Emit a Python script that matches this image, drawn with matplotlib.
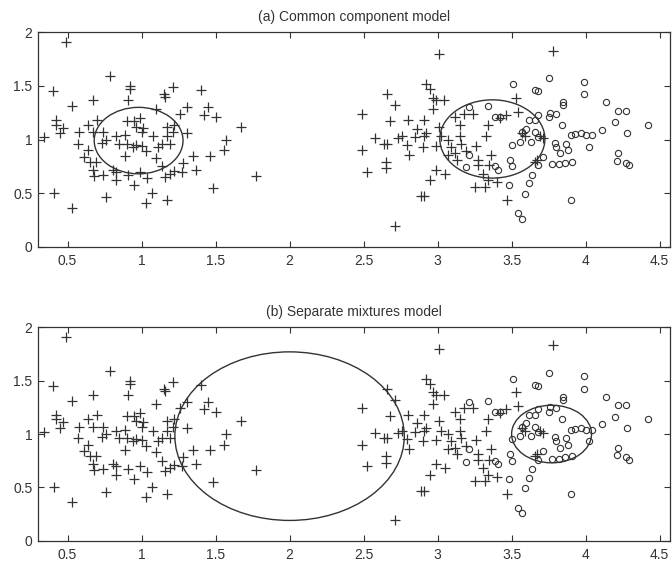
import matplotlib
matplotlib.use("Agg")
import matplotlib.pyplot as plt
from matplotlib.patches import Ellipse

plt.rcParams['font.family'] = ['Liberation Sans', 'DejaVu Sans']

# class 1 points (plotted as +)
plus_x = [0.49, 0.79, 0.40, 0.92, 0.92, 1.21, 1.40, 0.67, 0.91, 1.15, 1.16, 0.53, 1.31, 1.45,
          1.10, 1.50, 1.42, 1.26, 1.67, 0.42, 0.42, 0.47, 0.45, 0.34, 0.58, 0.64, 0.70, 0.67,
          0.57, 0.74, 0.76, 0.73, 0.83, 0.89, 0.85, 0.90, 0.96, 0.90, 0.95, 0.99, 0.96, 1.01,
          1.00, 0.94, 1.00, 1.03, 0.89, 1.10, 1.08, 1.11, 1.14, 1.17, 1.19, 1.21, 1.17, 1.22,
          1.31, 1.57, 1.56, 1.46, 1.35, 1.28, 1.27, 1.37, 1.22, 1.19, 1.16, 1.14, 1.04, 0.99,
          0.91, 0.83, 0.83, 0.81, 0.74, 0.68, 0.69, 0.67, 0.61, 0.64, 0.65, 0.95, 1.07, 1.03,
          1.17, 0.76, 0.41, 0.53, 1.48, 1.77,
          3.01, 3.78, 2.66, 2.71, 2.49, 2.92, 2.95, 2.97, 2.99, 3.04, 2.97, 3.53, 3.54, 2.68,
          2.80, 2.91, 2.86, 2.92, 2.85, 2.91, 2.90, 3.01, 3.02, 2.99, 3.07, 3.09, 3.12, 3.15,
          3.18, 3.24, 3.15, 3.16, 3.12, 3.19, 3.26, 3.34, 3.33, 3.07, 3.13, 2.58, 2.64, 2.66,
          2.73, 2.76, 2.79, 2.81, 2.49, 2.65, 2.65, 2.52, 2.99, 3.05, 2.95, 2.89, 2.91, 2.71,
          3.27, 3.27, 3.35, 3.36, 3.31, 3.34, 3.25, 3.32, 3.40, 3.47, 3.42, 3.46, 3.57, 3.59,
          3.66, 3.67, 3.69, 3.71]
plus_y = [1.91, 1.59, 1.45, 1.50, 1.47, 1.49, 1.46, 1.37, 1.37, 1.42, 1.40, 1.31, 1.30, 1.30,
          1.28, 1.21, 1.23, 1.24, 1.12, 1.18, 1.14, 1.11, 1.06, 1.02, 1.07, 1.14, 1.18, 1.07,
          0.96, 1.07, 1.00, 0.97, 1.03, 1.04, 0.96, 0.96, 0.95, 1.17, 1.17, 1.20, 1.12, 1.11,
          1.07, 0.93, 0.94, 0.89, 0.85, 0.83, 1.03, 0.93, 0.96, 1.03, 0.96, 1.07, 1.12, 1.14,
          1.06, 1.00, 0.90, 0.85, 0.85, 0.78, 0.70, 0.72, 0.71, 0.68, 0.65, 0.75, 0.64, 0.70,
          0.67, 0.70, 0.62, 0.72, 0.67, 0.66, 0.79, 0.72, 0.84, 0.90, 0.79, 0.58, 0.50, 0.41,
          0.44, 0.46, 0.50, 0.36, 0.55, 0.66,
          1.80, 1.83, 1.42, 1.32, 1.24, 1.52, 1.47, 1.39, 1.37, 1.37, 1.28, 1.39, 1.26, 1.17,
          1.18, 1.18, 1.10, 1.06, 1.02, 1.03, 0.93, 1.12, 1.03, 0.94, 1.00, 0.93, 1.21, 1.14,
          1.24, 1.24, 1.03, 0.96, 0.87, 0.89, 0.94, 1.14, 1.03, 0.86, 0.81, 1.01, 0.96, 0.96,
          1.01, 1.03, 0.95, 0.86, 0.90, 0.79, 0.73, 0.70, 0.72, 0.68, 0.62, 0.47, 0.47, 0.19,
          0.81, 0.76, 0.76, 0.86, 0.68, 0.62, 0.56, 0.56, 0.60, 0.44, 1.20, 1.23, 1.06, 1.03,
          0.79, 0.81, 1.03, 1.01]

# class 2 points (plotted as o)
circ_x = [3.51, 3.75, 3.99, 3.99, 3.66, 3.68, 3.85, 3.85, 4.14, 4.22, 4.27, 4.20, 4.42, 4.28,
          3.21, 3.34, 3.39, 3.42, 3.76, 3.80, 3.75, 3.68, 3.62, 3.66, 3.60, 3.57, 3.66, 3.68,
          3.63, 3.56, 3.50, 3.84, 3.90, 3.93, 3.97, 4.00, 4.04, 4.11, 4.02, 3.79, 3.80, 3.83,
          3.87, 3.88, 3.77, 3.82, 3.86, 3.91, 3.71, 3.68, 3.64, 3.62, 3.59, 3.48, 3.49, 3.50,
          3.41, 3.39, 3.19, 3.21, 3.54, 3.57, 3.90, 4.22, 4.21, 4.27, 4.29]
circ_y = [1.52, 1.57, 1.54, 1.42, 1.46, 1.45, 1.35, 1.32, 1.35, 1.27, 1.27, 1.16, 1.14, 1.06,
          1.30, 1.31, 1.21, 1.21, 1.25, 1.24, 1.21, 1.23, 1.18, 1.18, 1.10, 1.07, 1.07, 1.02,
          0.98, 0.98, 0.95, 1.14, 1.04, 1.05, 1.06, 1.04, 1.04, 1.09, 0.93, 0.97, 0.93, 0.87,
          0.96, 0.90, 0.77, 0.77, 0.78, 0.79, 0.84, 0.76, 0.67, 0.59, 0.49, 0.58, 0.81, 0.75,
          0.72, 0.75, 0.74, 0.86, 0.31, 0.26, 0.44, 0.87, 0.80, 0.78, 0.76]

# fitted component ellipses: centre x, centre y, width, height
ell_a = [(0.98, 0.99, 0.60, 0.62), (3.37, 1.005, 0.71, 0.73)]
ell_b = [(2.00, 0.98, 1.55, 1.58), (3.77, 1.00, 0.54, 0.54)]

titles = ["(a) Common component model", "(b) Separate mixtures model"]
xticks = [0.5, 1, 1.5, 2, 2.5, 3, 3.5, 4, 4.5]
xticklabels = ["0.5", "1", "1.5", "2", "2.5", "3", "3.5", "4", "4.5"]
yticks = [0, 0.5, 1, 1.5, 2]
yticklabels = ["0", "0.5", "1", "1.5", "2"]

ink = "#333333"
fig = plt.figure(figsize=(6.72, 5.63), dpi=100)
ax1 = fig.add_axes([0.0565, 0.5618, 0.9405, 0.3808])
ax2 = fig.add_axes([0.0565, 0.0396, 0.9405, 0.3790])

for ax, ells, title in [(ax1, ell_a, titles[0]), (ax2, ell_b, titles[1])]:
    ax.plot(plus_x, plus_y, '+', color=ink, markersize=6.5, markeredgewidth=0.9)
    ax.plot(circ_x, circ_y, 'o', mfc='none', mec=ink, markersize=4.5, markeredgewidth=0.8)
    for cx, cy, w, h in ells:
        ax.add_patch(Ellipse((cx, cy), w, h, fill=False, edgecolor=ink, linewidth=1.0))
    ax.set_xlim(0.3, 4.57)
    ax.set_ylim(0, 2)
    ax.set_xticks(xticks)
    ax.set_xticklabels(xticklabels)
    ax.set_yticks(yticks)
    ax.set_yticklabels(yticklabels)
    ax.tick_params(direction='in', top=True, right=True, length=4, width=0.8,
                   labelsize=10, colors=ink)
    ax.tick_params(axis='x', pad=5)
    ax.tick_params(axis='y', pad=4)
    for s in ax.spines.values():
        s.set_color(ink)
        s.set_linewidth(0.9)
    ax.set_title(title, fontsize=10, color=ink, pad=8)

fig.savefig("out.png", dpi=100)
